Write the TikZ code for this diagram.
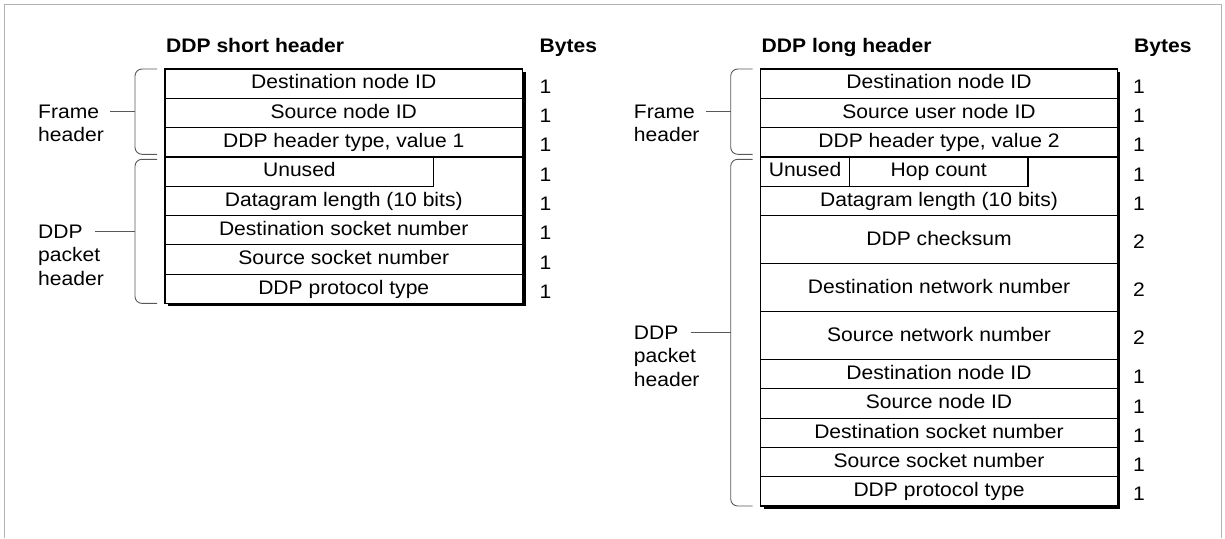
\documentclass[tikz,border=0pt]{standalone}
\usepackage{fontspec}
\setmainfont{Liberation Sans}[FakeStretch=1.075]
\begin{document}
\begin{tikzpicture}[x=1pt,y=-1pt,
  font=\fontsize{19.6}{23.4}\selectfont,
  boxline/.style={line width=1.2pt, draw=black},
  brace/.style={line width=0.9pt, draw=black!65, rounded corners=7pt},
  tick/.style={line width=0.9pt, draw=black!65},
  frameline/.style={line width=1.8pt, draw=black!30},
  celltext/.style={anchor=base, inner sep=0pt},
  bytes/.style={anchor=base west, inner sep=0pt},
  heading/.style={anchor=base west, inner sep=0pt, font=\fontsize{19.6}{23.4}\selectfont\bfseries},
  sidelabel/.style={anchor=base west, inner sep=0pt, align=left}]
\useasboundingbox (0,0) rectangle (1225,538);
% outer frame
\draw[frameline] (4.5,538) -- (4.5,4.5) -- (1221.5,4.5) -- (1221.5,538);

% ---------- left: short header ----------
\node[heading] (hs) at (166,52.7) {DDP short header};
\node[heading] (bs) at (539.5,52.7) {Bytes};
\fill[black] (168,72) rectangle (525.5,306.4);
\draw[boxline, fill=white] (165,69) rectangle (522.5,303.4);
\foreach \y in {98.3,127.6,156.9,215.5,244.8,274.1}
  \draw[boxline] (165,\y) -- (522.5,\y);
\draw[boxline] (165,186.2) -| (433.8,156.9);

\node[celltext] (s1) at (343.75,88.9) {Destination node ID};
\node[celltext] (s2) at (343.75,118.2) {Source node ID};
\node[celltext] (s3) at (343.75,147.5) {DDP header type, value 1};
\node[celltext] (s4) at (299.4,176.8) {Unused};
\node[celltext] (s5) at (343.75,206.1) {Datagram length (10 bits)};
\node[celltext] (s6) at (343.75,235.4) {Destination socket number};
\node[celltext] (s7) at (343.75,264.7) {Source socket number};
\node[celltext] (s8) at (343.75,294.0) {DDP protocol type};

\foreach \y [count=\i] in {93.25,122.55,151.85,181.15,210.45,239.75,269.05,298.35}
  \node[bytes] (sb\i) at (539.5,\y) {1};

% braces left
\draw[brace] (157,69) -- (135,69) -- (135,154.3) -- (157,154.3);
\draw[brace] (157,159.3) -- (135,159.3) -- (135,303.4) -- (157,303.4);
\coordinate (lfm) at (135,111.7);
\coordinate (lft) at (110,111.7);
\coordinate (lpm) at (135,231.3);
\coordinate (lpt) at (95,231.3);
\draw[tick] (lft) -- (lfm);
\draw[tick] (lpt) -- (lpm);
\node[sidelabel] (lframe) at (38,141.7) {Frame\\header};
\node[sidelabel] (lddp) at (38,285.1) {DDP\\packet\\header};

% ---------- right: long header ----------
\node[heading] (hl) at (761.5,52.7) {DDP long header};
\node[heading] (bl) at (1134,52.7) {Bytes};
\fill[black] (763.7,72) rectangle (1120.3,509);
\draw[boxline, fill=white] (760.7,69) rectangle (1117.3,506);
\foreach \y in {98.3,127.6,156.9,215.5,263.5,311.5,359.5,388.8,418.1,447.4,476.7}
  \draw[boxline] (760.7,\y) -- (1117.3,\y);
\draw[boxline] (760.7,186.2) -| (1028,156.9);
\draw[boxline] (849.5,156.9) -- (849.5,186.2);

\node[celltext] (l1) at (939,88.9) {Destination node ID};
\node[celltext] (l2) at (939,118.2) {Source user node ID};
\node[celltext] (l3) at (939,147.5) {DDP header type, value 2};
\node[celltext] (l4a) at (805.1,176.8) {Unused};
\node[celltext] (l4b) at (938.75,176.8) {Hop count};
\node[celltext] (l5) at (939,206.1) {Datagram length (10 bits)};
\node[celltext] (l6) at (939,245.5) {DDP checksum};
\node[celltext] (l7) at (939,293.5) {Destination network number};
\node[celltext] (l8) at (939,341.5) {Source network number};
\node[celltext] (l9) at (939,379.4) {Destination node ID};
\node[celltext] (l10) at (939,408.7) {Source node ID};
\node[celltext] (l11) at (939,438.0) {Destination socket number};
\node[celltext] (l12) at (939,467.3) {Source socket number};
\node[celltext] (l13) at (939,496.6) {DDP protocol type};

\foreach \y/\v [count=\i] in {93.25/1,122.55/1,151.85/1,181.15/1,210.45/1,248/2,296/2,344/2,383.75/1,413.05/1,442.35/1,471.65/1,500.95/1}
  \node[bytes] (lb\i) at (1133,\y) {\v};

% braces right
\draw[brace] (752.7,69) -- (730.7,69) -- (730.7,154.3) -- (752.7,154.3);
\draw[brace] (752.7,159.3) -- (730.7,159.3) -- (730.7,506) -- (752.7,506);
\coordinate (rfm) at (730.7,111.7);
\coordinate (rft) at (705.7,111.7);
\coordinate (rpm) at (730.7,332.7);
\coordinate (rpt) at (690.7,332.7);
\draw[tick] (rft) -- (rfm);
\draw[tick] (rpt) -- (rpm);
\node[sidelabel] (rframe) at (633.7,141.7) {Frame\\header};
\node[sidelabel] (rddp) at (633.7,386.1) {DDP\\packet\\header};
\end{tikzpicture}
\end{document}
